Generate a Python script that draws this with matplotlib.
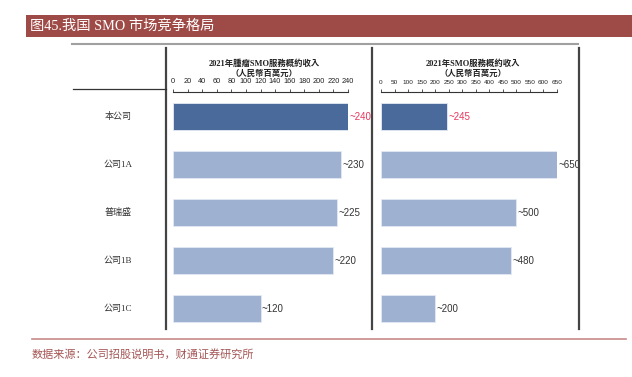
import matplotlib
matplotlib.use("Agg")
import matplotlib.pyplot as plt
from matplotlib.lines import Line2D
from matplotlib.patches import Rectangle
import matplotlib.transforms as mtransforms

W, H = 632, 377

companies = ["本公司", "公司1A", "普瑞盛", "公司1B", "公司1C"]
onc_rev = [240, 230, 225, 220, 120]      # 2021年肿瘤SMO服务概约收入
smo_rev = [245, 650, 500, 480, 200]      # 2021年SMO服务概约收入
ticks1 = list(range(0, 241, 20))
ticks2 = list(range(0, 651, 50))

dark = "#4A6A9B"
light = "#9EB1D1"
red_lbl = "#E8355C"
serif = ["Liberation Serif", "Noto Sans CJK SC"]
serif_tc = ["Liberation Serif", "Noto Sans CJK TC"]

fig = plt.figure(figsize=(W / 100, H / 100), dpi=100)


def fx(x):
    return x / W


def fy(y):
    return 1 - y / H


def hline(x0, x1, y, color, lw):
    fig.add_artist(Line2D([fx(x0), fx(x1)], [fy(y), fy(y)], color=color, lw=lw))


def vline(x, y0, y1, color, lw):
    fig.add_artist(Line2D([fx(x), fx(x)], [fy(y0), fy(y1)], color=color, lw=lw))


# banner
fig.add_artist(Rectangle((fx(26), fy(36.5)), fx(632 - 26), (36.5 - 15) / H,
                         color="#9E4B48", lw=0))
fig.text(fx(30), fy(26), "图45.我国 SMO 市场竞争格局", color="white",
         fontsize=10.3, family=serif, va="center", ha="left")

# frame lines
hline(72, 578, 43.5, "#A0A0A0", 1.5)
vline(166, 48, 329, "#444444", 1.6)
vline(371.5, 48, 329, "#444444", 1.6)
vline(579, 48, 329, "#444444", 1.6)
hline(73, 166, 89, "#333333", 0.9)
hline(32, 626, 339, "#C98A8A", 1.2)

fig.text(fx(32), fy(354), "数据来源：公司招股说明书，财通证券研究所", color="#A55555",
         fontsize=8, family=serif, va="center", ha="left")

top, bot = 92, 329
ymin = (top - 116.5) / 48
ymax = (bot - 116.5) / 48


def panel(x0, x1, vals, ticks, xmax, title1, title2, fam, tfs):
    ax = fig.add_axes([fx(x0), fy(bot), fx(x1 - x0), (bot - top) / H])
    ypos = list(range(len(vals)))
    cols = [dark] + [light] * (len(vals) - 1)
    ax.barh(ypos, vals, height=0.5625, color=cols, edgecolor="#E4EAF3", lw=0.6)
    ax.set_xlim(0, xmax)
    ax.set_ylim(ymax, ymin)
    for s in ["left", "right", "bottom"]:
        ax.spines[s].set_visible(False)
    ax.spines["top"].set_color("#333333")
    ax.spines["top"].set_linewidth(0.8)
    ax.xaxis.tick_top()
    ax.set_xticks(ticks)
    ax.set_xticklabels([str(t) for t in ticks], fontsize=tfs, color="#222222",
                       family="Liberation Sans")
    ax.tick_params(axis="x", length=2.5, width=0.6, pad=2.5, color="#333333")
    ax.set_yticks([])
    ax.patch.set_alpha(0)
    for i, v in enumerate(vals):
        ax.text(v + xmax * 0.008, i, "~%d" % v, fontsize=7,
                color=red_lbl if i == 0 else "#333333", va="center", ha="left",
                family="Liberation Sans")
    cx = (x0 + x1) / 2 + 4
    fig.text(fx(cx), fy(64), title1, fontsize=6, family=fam, weight="bold",
             ha="center", va="center", color="#222222")
    fig.text(fx(cx), fy(73.5), title2, fontsize=6, family=fam, weight="bold",
             ha="center", va="center", color="#222222")
    return ax


ax1 = panel(173, 348, onc_rev, ticks1, 240, "2021年腫瘤SMO服務概約收入", "（人民幣百萬元）", serif_tc, 5.3)
ax2 = panel(381, 557, smo_rev, ticks2, 650, "2021年SMO服務概約收入", "（人民幣百萬元）", serif_tc, 4.6)

trans = mtransforms.blended_transform_factory(fig.transFigure, ax1.transData)
for i, c in enumerate(companies):
    ax1.text(fx(118), i, c, transform=trans, fontsize=6.5, family=serif,
             ha="center", va="center", color="#333333", clip_on=False)

fig.savefig("out.png", dpi=100)
